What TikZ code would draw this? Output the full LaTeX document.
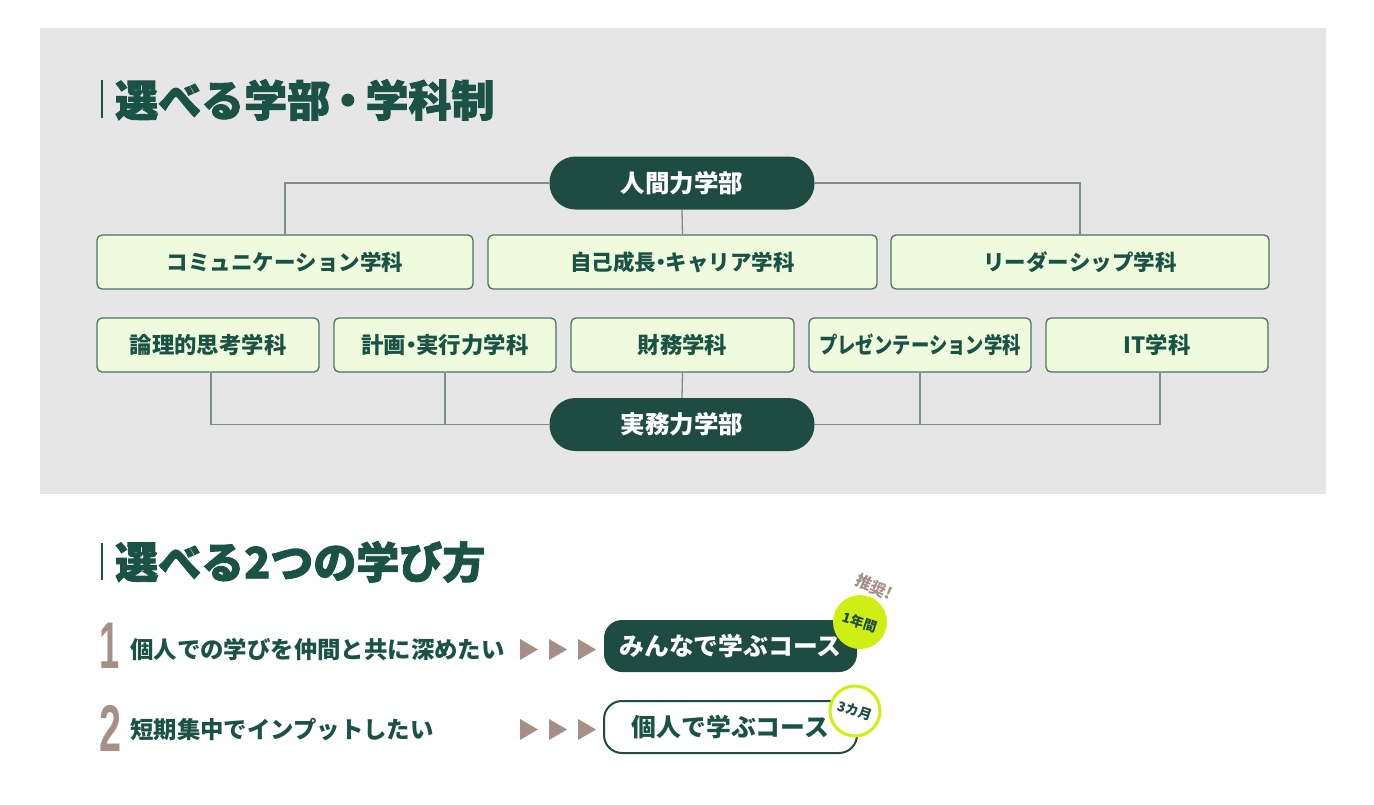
\documentclass[tikz,border=0pt]{standalone}
\usepackage{fontspec}
\newfontfamily\cjk{Noto Sans CJK JP}
\newfontfamily\cjkh{Noto Sans CJK JP}[BoldFeatures={FakeBold=2}]
\newfontfamily\numf{Liberation Sans}
\definecolor{panel}{HTML}{E6E6E6}
\definecolor{dkgreen}{HTML}{1F4C42}
\definecolor{txtgreen}{HTML}{1A5246}
\definecolor{boxfill}{HTML}{EEFBDC}
\definecolor{boxline}{HTML}{4D7367}
\definecolor{linegray}{HTML}{7E8E89}
\definecolor{lime}{HTML}{CFEE14}
\definecolor{taupe}{HTML}{A68F86}
\newcommand{\nd}{\hspace{-0.27em}・\hspace{-0.27em}}
\newcommand{\ndt}{\hspace{-0.09em}・\hspace{-0.09em}}
\tikzset{
  dept/.style={rounded corners=26pt, fill=dkgreen, text=white, minimum width=265pt, minimum height=53pt, inner sep=0pt, font=\cjk\bfseries\fontsize{24.5}{24.5}\selectfont},
  ka/.style={rounded corners=5pt, fill=boxfill, draw=boxline, line width=1.3pt, minimum height=54pt, inner sep=0pt, text=txtgreen, font=\cjk\bfseries\fontsize{21.5}{21.5}\selectfont},
  kb/.style={ka, font=\cjk\bfseries\fontsize{22.4}{22.4}\selectfont},
  conn/.style={draw=linegray, line width=1.3pt},
  ttl/.style={anchor=west, inner sep=0pt, text=txtgreen, font=\cjkh\bfseries\fontsize{43}{43}\selectfont},
  ttlbar/.style={draw=txtgreen, line width=2pt},
  num/.style={inner sep=0pt, text=taupe, font=\numf\bfseries\fontsize{66}{66}\selectfont},
  want/.style={anchor=west, inner sep=0pt, text=txtgreen, font=\cjk\bfseries\fontsize{23.4}{23.4}\selectfont},
  tri/.style={fill=taupe},
  course/.style={rounded corners=18pt, minimum width=253pt, minimum height=52pt, inner sep=0pt, font=\cjk\bfseries\fontsize{24.8}{24.8}\selectfont},
  badge/.style={circle, minimum size=54pt, inner sep=0pt, text=dkgreen, font=\cjk\bfseries\fontsize{13.5}{13.5}\selectfont},
}
\begin{document}
\begin{tikzpicture}[x=1pt,y=-1pt]
\useasboundingbox (0,0) rectangle (1374,804);
\fill[white] (0,0) rectangle (1374,804);
\fill[panel] (40,28) rectangle (1326,494);

% title 1
\draw[ttlbar] (102,80) -- (102,118);
\node[ttl] (t1) at (115,100) {選べる学部\ndt 学科制};

% faculties
\node[dept] (jinkan) at (682,183) {人間力学部};
\node[dept] (jitsumu) at (682,424.5) {実務力学部};

\node[ka, minimum width=376pt] (comm) at (285,262) {コミュニケーション学科};
\node[ka, minimum width=389pt] (jiko) at (682.5,262) {自己成長\nd キャリア学科};
\node[ka, minimum width=378pt] (leader) at (1080,262) {リーダーシップ学科};

\node[kb, minimum width=222pt] (ronri) at (208,345) {論理的思考学科};
\node[kb, minimum width=222pt] (keikaku) at (445,345) {計画\nd 実行力学科};
\node[kb, minimum width=223pt] (zaimu) at (682.5,345) {財務学科};
\node[kb, minimum width=222pt] (present) at (920,345) {\scalebox{0.82}[1]{プレゼンテーション学科}};
\node[kb, minimum width=222pt] (it) at (1157,345) {IT学科};

\draw[conn] (jinkan.west) -| (comm.north);
\draw[conn] (jinkan.east) -| (leader.north);
\draw[conn] (jinkan.south) -- (jiko.north);

\draw[conn] ([xshift=3pt]ronri.south) |- (jitsumu.west);
\draw[conn] (keikaku.south) -- (keikaku.south |- jitsumu.west);
\draw[conn] (zaimu.south) -- (jitsumu.north);
\draw[conn] (present.south) |- (jitsumu.east);
\draw[conn] ([xshift=3pt]it.south) |- (jitsumu.east);

% title 2
\draw[ttlbar] (102,543) -- (102,580);
\node[ttl] (t2) at (115,562) {選べる2つの学び方};

% row 1
\node[num] (n1) at (110,646) {\scalebox{0.55}[1]{1}};
\node[want] (w1) at (130,650) {個人での学びを仲間と共に深めたい};
\fill[tri] (520,639) -- (538,649.5) -- (520,660) -- cycle;
\fill[tri] (549,639) -- (567,649.5) -- (549,660) -- cycle;
\fill[tri] (578,639) -- (596,649.5) -- (578,660) -- cycle;
\node[course, fill=dkgreen, text=white] (c1) at (730.5,646) {みんなで学ぶコース};
\node[badge, fill=lime] (b1) at (860,622) {\rotatebox{-18}{1年間}};
\node[inner sep=0pt, text=taupe, font=\cjk\bfseries\fontsize{16}{16}\selectfont, rotate=-24] (rec) at (874,587) {推奨!};

% row 2
\node[num] (n2) at (111,728) {\scalebox{0.6}[1]{2}};
\node[want] (w2) at (130,730) {短期集中でインプットしたい};
\fill[tri] (520,719) -- (538,729.5) -- (520,740) -- cycle;
\fill[tri] (549,719) -- (567,729.5) -- (549,740) -- cycle;
\fill[tri] (578,719) -- (596,729.5) -- (578,740) -- cycle;
\node[course, fill=white, draw=dkgreen, line width=2pt, text=txtgreen] (c2) at (730.5,727) {個人で学ぶコース};
\node[badge, fill=white, draw=lime, line width=3pt, minimum size=50pt] (b2) at (855,711) {\rotatebox{-18}{3カ月}};
\end{tikzpicture}
\end{document}
